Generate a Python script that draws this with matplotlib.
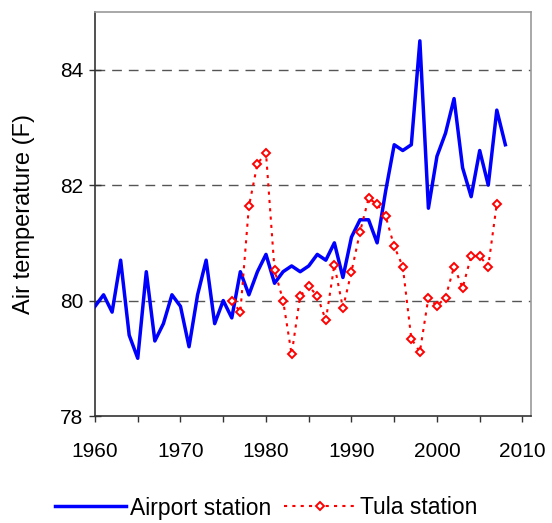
import matplotlib
matplotlib.use("Agg")
import matplotlib.pyplot as plt
import numpy as np
from matplotlib.ticker import MultipleLocator

plt.rcParams['font.family'] = ['Liberation Sans', 'DejaVu Sans']

airport_years = list(range(1960, 2009))
airport_temp = [79.9, 80.1, 79.8, 80.7, 79.4, 79.0, 80.5, 79.3, 79.6, 80.1,
                79.9, 79.2, 80.1, 80.7, 79.6, 80.0, 79.7, 80.5, 80.1, 80.5,
                80.8, 80.3, 80.5, 80.6, 80.5, 80.6, 80.8, 80.7, 81.0, 80.4,
                81.1, 81.4, 81.4, 81.0, 81.9, 82.7, 82.6, 82.7, 84.5, 81.6,
                82.5, 82.9, 83.5, 82.3, 81.8, 82.6, 82.0, 83.3, 82.7]

tula_years = list(range(1976, 2008))
tula_temp = [80.0, 79.8, 81.63, 82.37, 82.56, 80.53, 80.0, 79.07, 80.08, 80.25,
             80.08, 79.66, 80.62, 79.87, 80.5, 81.19, 81.77, 81.67, 81.46, 80.94,
             80.59, 79.34, 79.11, 80.05, 79.91, 80.05, 80.59, 80.22, 80.77, 80.77,
             80.59, 81.68]

fig = plt.figure(figsize=(5.52, 5.23), dpi=100)
ax = fig.add_axes([95/552, 1-416/523, (531-95)/552, (416-12)/523])

ax.plot(airport_years, airport_temp, color='#0000ff', lw=2.5, label='Airport station', zorder=3)
ax.plot(tula_years, tula_temp, color='#ff0000', lw=1.5, ls=(0, (1.5, 2.5)),
        marker='D', markersize=4.5, markerfacecolor='white', markeredgecolor='#ff0000',
        markeredgewidth=1.4, label='Tula station', zorder=4)

ax.set_xlim(1960, 2011)
ax.set_ylim(78, 85)
ax.xaxis.set_major_locator(MultipleLocator(10))
ax.xaxis.set_minor_locator(MultipleLocator(5))
ax.yaxis.set_major_locator(MultipleLocator(2))
ax.tick_params(axis='both', which='both', labelsize=15, color='#333333', width=1.0)
ax.tick_params(axis='x', which='both', direction='out', length=4.5, pad=14)
ax.tick_params(axis='y', which='major', direction='inout', length=9, pad=4)

for y in [80, 82, 84]:
    ax.axhline(y, color='#555555', lw=1.0, ls=(0, (7, 5)), zorder=1)

ax.spines['left'].set_color('#333333')
ax.spines['bottom'].set_color('#333333')
ax.spines['left'].set_linewidth(1.2)
ax.spines['bottom'].set_linewidth(1.2)
ax.spines['top'].set_color('#999999')
ax.spines['right'].set_color('#999999')
ax.spines['top'].set_linewidth(1.2)
ax.spines['right'].set_linewidth(1.2)

ax.set_ylabel('Air temperature (F)', fontsize=17)
ax.yaxis.set_label_coords(-60/436, 0.5)

fig.legend(loc='center', bbox_to_anchor=(266/552, 1-508/523), ncol=2, frameon=False,
           fontsize=16.5, handlelength=3.1, columnspacing=0.55, handletextpad=0.2,
           borderpad=0.1)

fig.savefig('out.png', dpi=100)
